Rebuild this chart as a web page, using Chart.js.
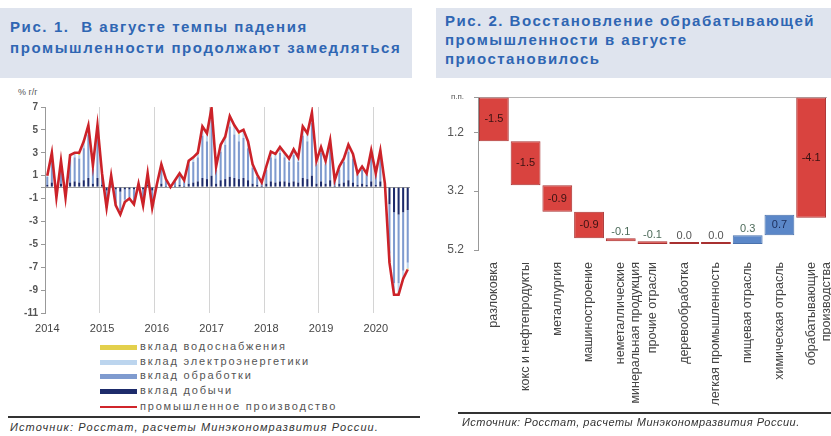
<!DOCTYPE html>
<html>
<head>
<meta charset="utf-8">
<script src="https://cdn.jsdelivr.net/npm/chart.js@4.4.0/dist/chart.umd.min.js"></script>
<style>
  body { margin: 0; width: 831px; height: 436px; background: #fff; position: relative; overflow: hidden;
         font-family: "Liberation Sans", Arial, sans-serif; }
  .title { position: absolute; top: 8px; height: 70px; background: #dfe4ee; color: #2f66b3;
           font-weight: bold; font-size: 15px; box-sizing: border-box; white-space: nowrap; }
  #t1 { left: 0; width: 412px; padding: 8px 0 0 10px; line-height: 21px; letter-spacing: 1.6px; }
  #t2 { left: 436px; width: 395px; padding: 3px 0 0 9px; line-height: 19px; letter-spacing: 1.5px; }
  .unit { position: absolute; left: 18px; top: 87px; font-size: 9px; color: #555; }
  .leg { position: absolute; left: 100px; font-size: 11px; color: #555; line-height: 12px;
         white-space: nowrap; letter-spacing: 1.8px; }
  .sw { display: inline-block; width: 37px; height: 5px; vertical-align: middle; margin-right: 3px; }
  .rule { position: absolute; height: 2px; background: #333; }
  .src { position: absolute; font-size: 11px; font-style: italic; color: #333; white-space: nowrap; }
  #c1box { position: absolute; left: 0; top: 90px; width: 415px; height: 250px; }
  #c2box { position: absolute; left: 420px; top: 86px; width: 411px; height: 330px; }
</style>
</head>
<body>
<div class="title" id="t1">Рис. 1.&nbsp; В августе темпы падения<br>промышленности продолжают замедляться</div>
<div class="title" id="t2">Рис. 2. Восстановление обрабатывающей<br>промышленности в августе<br>приостановилось</div>
<div class="unit">% г/г</div>

<div id="c1box"><canvas id="c1" width="415" height="250"></canvas></div>
<div id="c2box"><canvas id="c2" width="411" height="330"></canvas></div>

<div class="leg" style="top:340px"><span class="sw" style="background:#e3d04c"></span>вклад водоснабжения</div>
<div class="leg" style="top:355px"><span class="sw" style="background:#bcd5ee"></span>вклад электроэнергетики</div>
<div class="leg" style="top:369px"><span class="sw" style="background:#7f9bcf"></span>вклад обработки</div>
<div class="leg" style="top:384px"><span class="sw" style="background:#1d2b6b"></span>вклад добычи</div>
<div class="leg" style="top:400px"><span class="sw" style="background:#d0252b;height:2px"></span>промышленное производство</div>

<div class="rule" style="left:8px;top:416px;width:412px"></div>
<div class="rule" style="left:458px;top:412px;width:373px"></div>
<div class="src" style="left:10px;top:421px;letter-spacing:1.1px">Источник: Росстат, расчеты Минэкономразвития России.</div>
<div class="src" style="left:462px;top:416px;letter-spacing:0.5px">Источник: Росстат, расчеты Минэкономразвития России.</div>

<script>
// Рис. 1: monthly, Jan 2014 .. Aug 2020
const years = ['2014', '2015', '2016', '2017', '2018', '2019', '2020'];
const industry = [
  1.0, 3.0, -0.9, 2.3, -0.9, 2.8, 3.0, 3.0, 4.0, 5.4, 1.9, 5.4,
  1.2, -1.8, 1.0, -1.6, -2.4, -1.3, -1.0, -1.5, 0.3, -1.6, 1.2, -1.8,
  0.2, 2.0, 0.7, 0.0, 0.6, 1.2, 0.6, 2.3, 2.6, 3.0, 5.3, 4.7,
  6.9, 1.8, 3.7, 4.4, 6.2, 5.4, 4.8, 5.0, 4.0, 2.0, 1.1, 0.4,
  1.8, 3.1, 2.9, 3.5, 3.0, 2.5, 3.3, 2.6, 5.3, 4.7, 6.5, 2.3,
  3.5, 2.3, 4.1, 0.6, 1.8, 2.5, 3.7, 2.9, 1.2, 1.8, 1.2, 3.2,
  1.2, 3.2, 0.3, -6.6, -9.4, -9.4, -8.0, -7.2
];
const mining = [
  0.2, 0.4, -0.1, 0.3, -0.1, 0.4, 0.5, 0.4, 0.6, 0.8, 0.3, 0.8,
  0.2, -0.3, 0.1, -0.2, -0.4, -0.2, -0.2, -0.2, 0.0, -0.2, 0.2, -0.3,
  0.0, 0.3, 0.1, 0.0, 0.1, 0.2, 0.1, 0.3, 0.4, 0.5, 0.8, 0.7,
  1.0, 0.3, 0.6, 0.7, 0.9, 0.8, 0.7, 0.8, 0.6, 0.3, 0.2, 0.1,
  0.3, 0.5, 0.4, 0.5, 0.5, 0.4, 0.5, 0.4, 0.8, 0.7, 1.0, 0.3,
  0.5, 0.3, 0.6, 0.1, 0.3, 0.4, 0.6, 0.4, 0.2, 0.3, 0.2, 0.5,
  0.2, 0.5, 0.0, -1.5, -2.2, -2.4, -2.2, -2.0
];
const manufacturing = [
  0.7, 2.1, -0.6, 1.6, -0.6, 2.0, 2.1, 2.1, 2.8, 3.8, 1.3, 3.8,
  0.9, -1.2, 0.8, -1.2, -1.6, -0.9, -0.7, -1.1, 0.3, -1.2, 0.8, -1.2,
  0.2, 1.4, 0.5, 0.0, 0.4, 0.8, 0.4, 1.7, 1.8, 2.1, 3.7, 3.3,
  4.9, 1.2, 2.5, 3.0, 4.4, 3.8, 3.3, 3.5, 2.8, 1.4, 0.7, 0.2,
  1.2, 2.1, 2.1, 2.5, 2.1, 1.8, 2.3, 1.8, 3.7, 3.3, 4.6, 1.7,
  2.5, 1.7, 2.9, 0.4, 1.2, 1.8, 2.5, 2.1, 0.9, 1.2, 0.9, 2.3,
  0.9, 2.3, 0.3, -4.3, -6.2, -6.0, -5.1, -4.6
];
const electricity = [
  0.1, 0.3, -0.1, 0.3, -0.1, 0.3, 0.3, 0.3, 0.5, 0.7, 0.2, 0.7,
  0.1, -0.2, 0.1, -0.2, -0.3, -0.2, -0.1, -0.2, 0.0, -0.2, 0.1, -0.2,
  0.0, 0.2, 0.1, 0.0, 0.1, 0.1, 0.1, 0.3, 0.3, 0.3, 0.7, 0.6,
  0.8, 0.2, 0.5, 0.6, 0.8, 0.7, 0.6, 0.6, 0.5, 0.2, 0.1, 0.1,
  0.2, 0.4, 0.3, 0.4, 0.3, 0.3, 0.4, 0.3, 0.7, 0.6, 0.8, 0.3,
  0.4, 0.3, 0.5, 0.1, 0.2, 0.3, 0.5, 0.3, 0.1, 0.2, 0.1, 0.3,
  0.1, 0.3, 0.0, -0.6, -0.8, -0.8, -0.6, -0.5
];
const water = [
  0.0, 0.1, 0.0, 0.0, 0.0, 0.1, 0.1, 0.1, 0.1, 0.1, 0.1, 0.1,
  0.0, -0.1, 0.0, 0.0, -0.1, 0.0, 0.0, -0.1, 0.0, 0.0, 0.0, -0.1,
  0.0, 0.1, 0.0, 0.0, 0.0, 0.0, 0.0, 0.0, 0.1, 0.1, 0.1, 0.1,
  0.2, 0.1, 0.1, 0.1, 0.1, 0.1, 0.2, 0.1, 0.1, 0.1, 0.1, 0.0,
  0.1, 0.1, 0.1, 0.1, 0.1, 0.0, 0.1, 0.1, 0.1, 0.1, 0.1, 0.0,
  0.1, 0.0, 0.1, 0.0, 0.1, 0.0, 0.1, 0.1, 0.0, 0.1, 0.0, 0.1,
  0.0, 0.1, 0.0, -0.2, -0.2, -0.2, -0.1, -0.1
];

// Рис. 2: contributions to manufacturing, п.п.
const branches = [
  'разлоковка',
  'кокс и нефтепродукты',
  'металлургия',
  'машиностроение',
  ['неметаллические', 'минеральная продукция'],
  'прочие отрасли',
  'деревообработка',
  'легкая промышленность',
  'пищевая отрасль',
  'химическая отрасль',
  ['обрабатывающие', 'производства']
];
const contrib = [-1.5, -1.5, -0.9, -0.9, -0.1, -0.1, 0.0, 0.0, 0.3, 0.7, -4.1];
const rightTicks = [0, 1.2, 3.2, 5.2];

const months = [];
industry.forEach((v, i) => months.push(years[Math.floor(i / 12)] + '-' + (i % 12 + 1)));

const barDs = (label, data, color) => ({
  type: 'bar', label, data, backgroundColor: color, stack: 'parts', order: 1,
  barPercentage: 0.45, categoryPercentage: 1
});

new Chart(document.getElementById('c1'), {
  data: {
    labels: months,
    datasets: [
      { type: 'line', label: 'промышленное производство', data: industry, borderColor: '#cc2229',
        borderWidth: 2.6, pointRadius: 0, tension: 0, stack: 'line', order: 0 },
      barDs('вклад добычи', mining, '#1d2b6b'),
      barDs('вклад обработки', manufacturing, '#7f9bcf'),
      barDs('вклад электроэнергетики', electricity, '#bcd5ee'),
      barDs('вклад водоснабжения', water, '#e3d04c')
    ]
  },
  options: {
    responsive: false,
    animation: false,
    layout: { padding: { top: 17, right: 5, left: 0, bottom: 0 } },
    plugins: { legend: { display: false }, tooltip: { enabled: false } },
    scales: {
      x: {
        stacked: true,
        border: { display: false },
        grid: { offset: true, drawTicks: false,
                color: ctx => (ctx.index > 0 && ctx.index % 12 === 0) ? '#d4d4d4' : 'rgba(0,0,0,0)' },
        ticks: { autoSkip: false, maxRotation: 0, minRotation: 0, padding: 9,
                 color: '#444', font: { size: 11 },
                 callback: (v, i) => (i % 12 === 0 ? years[i / 12] : '') },
        afterFit: s => { s.height = 27; s.paddingLeft = 0; s.paddingRight = 0; }
      },
      y: {
        stacked: true,
        min: -11, max: 7,
        border: { color: '#999' },
        grid: { tickLength: 4, tickColor: '#999',
                color: ctx => (ctx.tick && ctx.tick.value === 0 ? '#9a9a9a' : 'rgba(0,0,0,0)') },
        afterBuildTicks: s => {
          const t = [];
          for (let v = 7; v >= -11; v -= 2) t.push({ value: v });
          t.push({ value: 0 });
          s.ticks = t;
        },
        ticks: { color: '#555', font: { size: 10, weight: 'bold' }, padding: 3,
                 callback: v => (v === 0 ? '' : String(v)) },
        afterFit: s => { s.width = 45; s.paddingTop = 0; s.paddingBottom = 0; }
      }
    }
  }
});

// waterfall: running level of decline, reversed axis
const floating = [];
let level = 0;
contrib.forEach((c, i) => {
  if (i === contrib.length - 1) {
    floating.push([0, -c]);
  } else {
    floating.push([level, level - c]);
    level = level - c;
  }
});

const labelPlugin = {
  id: 'wfLabels',
  afterDatasetsDraw(chart) {
    const ctx = chart.ctx;
    const meta = chart.getDatasetMeta(0);
    ctx.save();
    ctx.font = '11px "Liberation Sans", Arial, sans-serif';
    ctx.textAlign = 'center';
    meta.data.forEach((bar, i) => {
      const c = contrib[i];
      const p = bar.getProps(['x', 'y', 'base'], true);
      const top = Math.min(p.y, p.base), bottom = Math.max(p.y, p.base);
      const txt = c.toFixed(1);
      if (Math.abs(c) >= 0.5) {
        ctx.fillStyle = c < 0 ? '#3a1212' : '#1c2d5a';
        ctx.textBaseline = 'middle';
        ctx.fillText(txt, p.x, (top + bottom) / 2);
      } else {
        ctx.fillStyle = c === 0 ? '#555' : '#4d6b5a';
        ctx.textBaseline = 'bottom';
        ctx.fillText(txt, p.x, top - 1);
      }
    });
    ctx.restore();
  }
};

const isDown = (c, i) => c <= 0 || i === contrib.length - 1;

new Chart(document.getElementById('c2'), {
  type: 'bar',
  data: {
    labels: branches,
    datasets: [{
      data: floating,
      backgroundColor: contrib.map((c, i) => (isDown(c, i) ? '#d9433f' : '#5b87c8')),
      borderColor: contrib.map((c, i) => (isDown(c, i) ? '#a83030' : '#4a72ad')),
      borderWidth: 1,
      borderSkipped: false,
      minBarLength: 2,
      barPercentage: 0.94,
      categoryPercentage: 1
    }]
  },
  options: {
    responsive: false,
    animation: false,
    layout: { padding: { top: 11, right: 4, left: 0, bottom: 0 } },
    plugins: { legend: { display: false }, tooltip: { enabled: false } },
    scales: {
      x: {
        border: { display: false },
        grid: { display: false },
        ticks: { autoSkip: false, maxRotation: 90, minRotation: 90, padding: 4,
                 color: '#444', font: { size: 12.5 } },
        afterFit: s => { s.height = 166; s.paddingLeft = 0; s.paddingRight = 0; }
      },
      y: {
        reverse: true,
        min: 0, max: 5.2,
        border: { color: '#999' },
        grid: { tickLength: 4, tickColor: '#999',
                color: ctx => (ctx.tick && ctx.tick.value === 0 ? '#b5b5b5' : 'rgba(0,0,0,0)') },
        afterBuildTicks: s => { s.ticks = rightTicks.map(v => ({ value: v })); },
        ticks: { color: '#555', padding: 10,
                 font: ctx => ({ size: ctx.tick && ctx.tick.value === 0 ? 8 : 12 }),
                 callback: v => (v === 0 ? 'п.п.' : v.toFixed(1)) },
        afterFit: s => { s.width = 58; s.paddingTop = 0; s.paddingBottom = 0; }
      }
    }
  },
  plugins: [labelPlugin]
});
</script>
</body>
</html>
